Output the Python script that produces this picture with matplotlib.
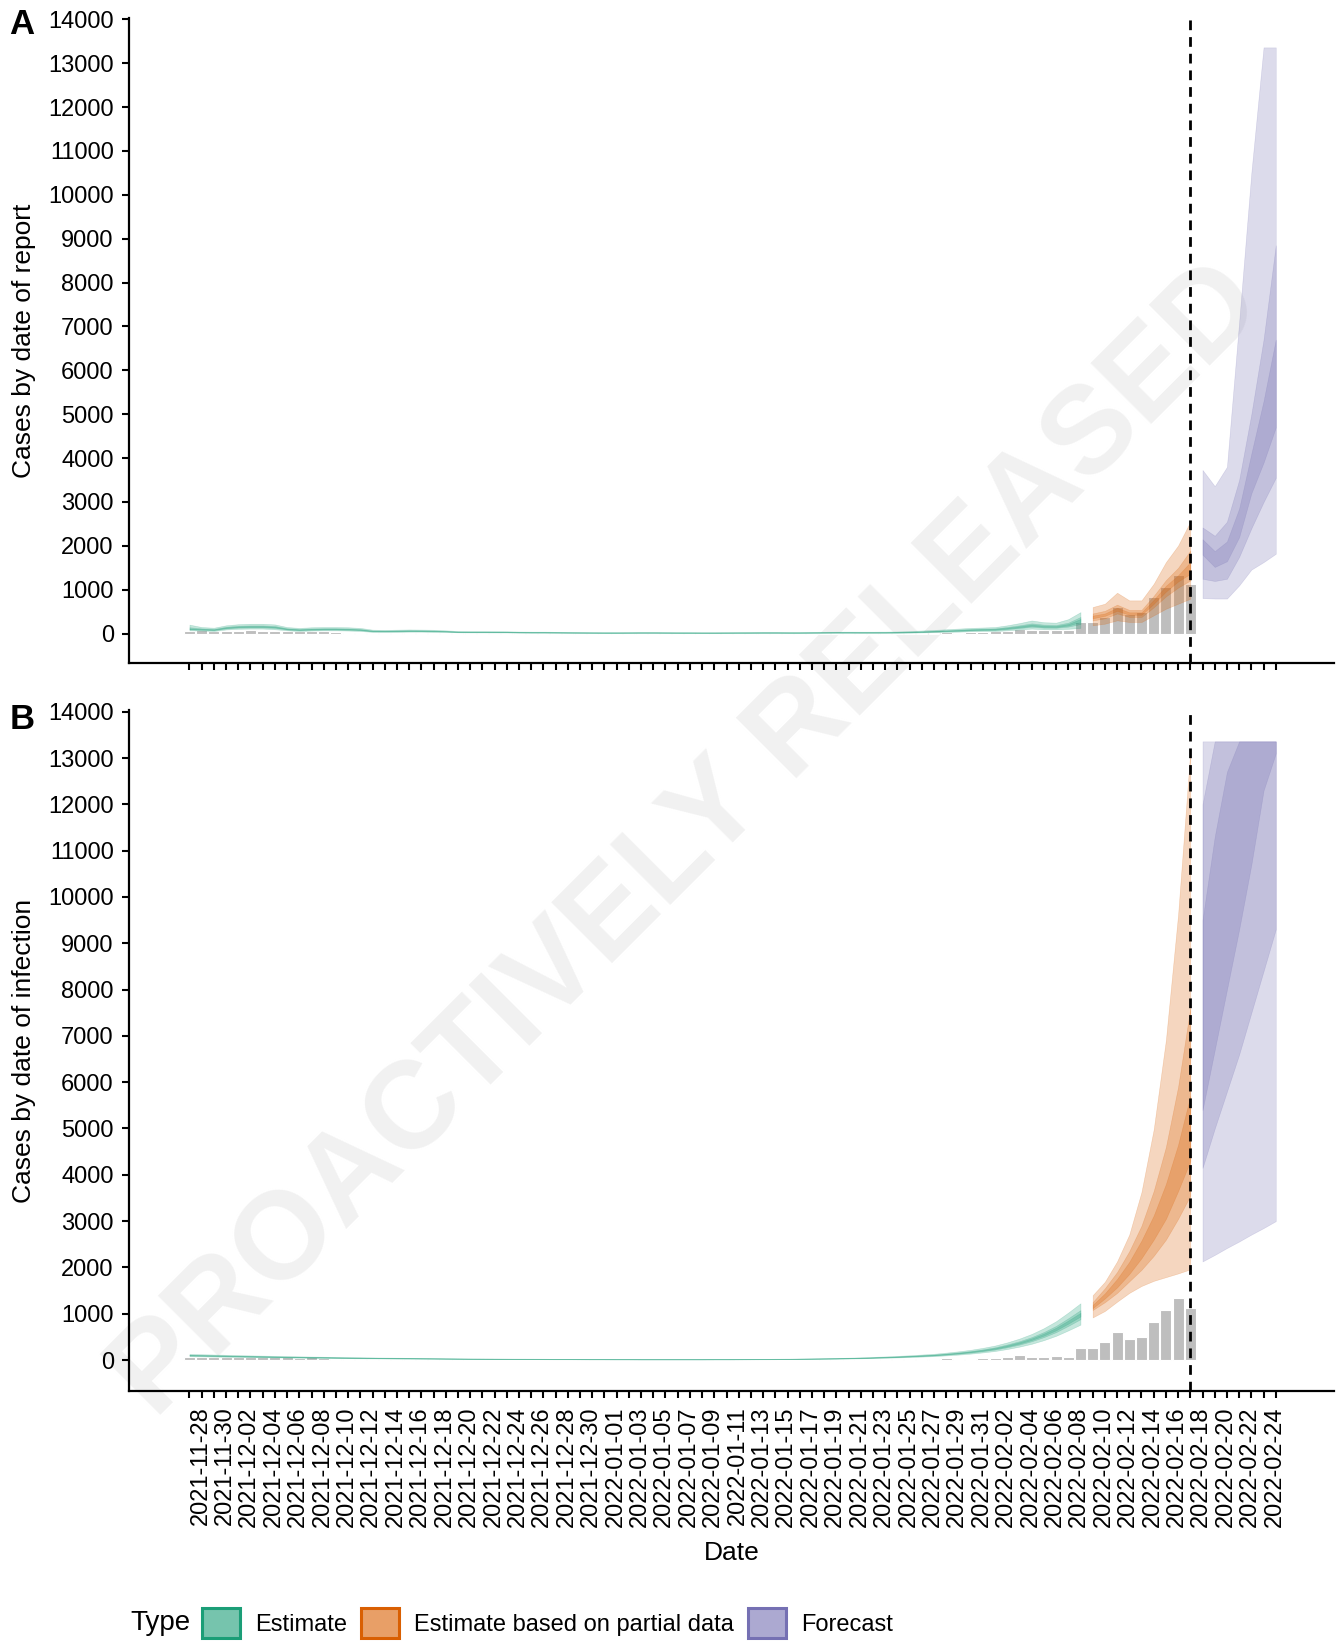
import numpy as np
import pandas as pd
import matplotlib
matplotlib.use("Agg")
import matplotlib.pyplot as plt
import matplotlib.dates as mdates
from matplotlib.patches import Patch

dates = pd.date_range("2021-11-28", "2022-02-25")
n_est = 74        # estimates up to 2022-02-09
n_partial = 9     # partial data 2022-02-10 .. 2022-02-18, forecast after that
types = ["Estimate", "Estimate based on partial data", "Forecast"]
colours = ["#1b9e77", "#d95f02", "#7570b3"]

# reported cases 2021-11-28 .. 2022-02-18
reported = [60, 75, 62,
            70, 68, 72, 58, 55, 60, 52, 64, 50, 30, 22, 18, 25, 20, 16, 22, 15, 12, 10, 14, 9, 11, 8, 6, 4, 5, 7, 6, 5, 8, 4,
            3, 5, 6, 4, 7, 5, 4, 6, 3, 5, 8, 6, 9, 7, 5, 8, 10, 7, 12, 9, 14, 11, 10, 15, 13, 18, 16, 12, 48, 20, 30,
            36, 50, 65, 100, 72, 72, 86, 72, 270, 270, 384, 598, 458, 500, 830, 1070, 1336, 1133]

# cases by date of report: 90%, 50%, 20% credible intervals
report_lo90 = [75, 70, 60,
               95, 110, 115, 115, 100, 75, 60, 70, 75, 75, 70, 60, 40, 38, 40, 45, 45, 40, 38, 30, 28, 28, 27, 26, 22, 20, 20, 18, 17, 16, 15,
               14, 14, 15, 16, 16, 15, 14, 14, 13, 13, 14, 15, 15, 16, 16, 15, 15, 16, 17, 18, 18, 17, 17, 17, 18, 22, 28, 35, 40, 45, 55,
               60, 60, 75, 95, 115, 100, 100, 110, 130,
               189, 227, 303, 265, 265, 417, 568, 682, 795,
               810, 800, 800, 1100, 1460, 1630, 1820]
report_lo50 = [95, 86, 76,
               117, 135, 140, 140, 128, 92, 77, 87, 92, 92, 87, 77, 51, 49, 52, 56, 55, 51, 46, 37, 35, 35, 34, 33, 28, 26, 26, 24, 22, 21, 20,
               19, 19, 20, 21, 21, 20, 19, 19, 18, 18, 19, 20, 20, 21, 21, 20, 20, 21, 22, 24, 24, 23, 23, 23, 25, 30, 37, 45, 53, 61, 72,
               78, 80, 101, 127, 156, 136, 134, 160, 220,
               300, 350, 460, 380, 380, 600, 850, 1050, 1212,
               1250, 1200, 1250, 1750, 2400, 3000, 3550]
report_lo20 = [105, 95, 85,
               129, 148, 154, 154, 143, 100, 85, 95, 100, 100, 95, 85, 57, 55, 58, 62, 61, 57, 50, 40, 38, 38, 37, 36, 31, 29, 29, 27, 25, 24, 23,
               22, 22, 23, 24, 24, 23, 22, 22, 21, 21, 22, 23, 23, 24, 24, 23, 23, 24, 26, 27, 27, 26, 26, 27, 29, 35, 42, 51, 60, 69, 81,
               88, 92, 115, 143, 175, 154, 150, 185, 265,
               350, 405, 520, 430, 430, 680, 960, 1190, 1364,
               1800, 1520, 1650, 2200, 3200, 3900, 4700]
report_hi20 = [118, 106, 96,
               143, 164, 170, 170, 158, 112, 96, 106, 111, 111, 106, 96, 64, 62, 66, 69, 68, 64, 55, 45, 43, 43, 42, 41, 35, 32, 32, 30, 28, 27, 26,
               25, 25, 26, 27, 27, 26, 25, 25, 24, 24, 25, 26, 26, 27, 27, 26, 26, 28, 29, 31, 31, 30, 30, 31, 35, 41, 48, 59, 70, 81, 95,
               102, 108, 135, 168, 207, 180, 175, 220, 335,
               410, 460, 590, 485, 485, 770, 1090, 1330, 1629,
               2150, 1880, 2100, 2850, 4100, 5300, 6700]
report_hi50 = [145, 120, 108,
               157, 180, 186, 186, 174, 123, 106, 118, 123, 123, 118, 106, 72, 69, 73, 77, 75, 71, 61, 49, 47, 47, 46, 45, 38, 36, 36, 34, 31, 30, 29,
               28, 28, 29, 30, 30, 29, 28, 28, 27, 27, 28, 29, 30, 31, 31, 30, 30, 32, 33, 35, 35, 34, 34, 35, 39, 46, 55, 66, 79, 91, 106,
               113, 120, 151, 189, 234, 205, 196, 250, 380,
               460, 520, 660, 540, 540, 860, 1220, 1500, 1894,
               2420, 2230, 2550, 3500, 5000, 6700, 8850]
report_hi90 = [205, 150, 135,
               190, 215, 225, 225, 210, 150, 130, 145, 150, 150, 145, 130, 90, 85, 90, 95, 92, 88, 75, 60, 58, 58, 56, 54, 48, 45, 45, 42, 40, 38, 36,
               35, 35, 36, 38, 38, 36, 35, 34, 33, 33, 35, 37, 38, 39, 39, 38, 38, 40, 42, 44, 45, 44, 44, 46, 50, 60, 72, 85, 100, 115, 130,
               140, 150, 190, 240, 300, 260, 250, 330, 490,
               606, 682, 932, 758, 758, 1136, 1629, 2008, 2553,
               3730, 3360, 3800, 7100, 10500, 13360, 13360]

# cases by date of infection
infect_lo90 = [82, 78, 74,
               70, 66, 62, 59, 56, 53, 50, 47, 44, 42, 40, 37, 35, 33, 31, 30, 28, 27, 25, 23, 22, 21, 20, 20, 19, 18, 17, 16, 16, 15, 14,
               14, 13, 13, 12, 12, 12, 12, 12, 12, 13, 13, 14, 15, 16, 17, 19, 21, 23, 26, 28, 32, 37, 42, 48, 56, 64, 74, 84, 100, 117, 138,
               164, 195, 238, 289, 351, 429, 523, 640, 764,
               920, 1060, 1260, 1450, 1600, 1710, 1790, 1870, 1960,
               2130, 2270, 2420, 2560, 2710, 2850, 3000]
infect_lo50 = [95, 90, 86,
               81, 77, 72, 68, 65, 61, 58, 54, 51, 49, 46, 43, 41, 38, 36, 34, 32, 31, 29, 27, 25, 24, 23, 23, 22, 21, 20, 19, 18, 17, 16,
               16, 15, 15, 14, 14, 14, 14, 14, 14, 15, 15, 16, 17, 18, 20, 22, 24, 27, 30, 32, 37, 42, 49, 56, 65, 74, 86, 97, 115, 135, 159,
               189, 225, 275, 333, 405, 495, 603, 738, 882,
               1080, 1250, 1450, 1700, 1950, 2250, 2600, 3050, 3550,
               4150, 5000, 5800, 6600, 7500, 8400, 9300]
infect_lo20 = [101, 96, 91,
               86, 82, 77, 73, 69, 65, 61, 58, 55, 52, 49, 46, 43, 40, 38, 36, 35, 33, 31, 29, 27, 26, 25, 24, 23, 22, 21, 20, 19, 18, 17,
               17, 16, 16, 15, 15, 15, 15, 15, 15, 16, 16, 17, 18, 19, 21, 23, 26, 29, 32, 35, 39, 45, 52, 60, 69, 79, 91, 104, 123, 144, 170,
               202, 240, 293, 355, 432, 528, 643, 787, 941,
               1120, 1330, 1570, 1860, 2200, 2600, 3050, 3650, 4300,
               5400, 6700, 8000, 9300, 10700, 12300, 13100]
infect_hi20 = [109, 104, 99,
               94, 88, 83, 79, 75, 71, 67, 62, 59, 56, 53, 50, 47, 44, 42, 40, 37, 35, 33, 31, 29, 28, 27, 26, 25, 24, 23, 22, 21, 20, 19,
               19, 18, 18, 17, 17, 17, 17, 17, 17, 18, 18, 19, 20, 21, 23, 25, 28, 31, 34, 37, 43, 49, 56, 64, 75, 85, 99, 112, 133, 156, 184,
               218, 260, 317, 385, 468, 572, 697, 853, 1019,
               1190, 1440, 1750, 2120, 2580, 3120, 3800, 4650, 5700,
               9500, 11300, 12700, 13360, 13360, 13360, 13360]
infect_hi50 = [116, 110, 105,
               99, 94, 88, 84, 79, 75, 70, 66, 63, 59, 56, 53, 50, 46, 44, 42, 40, 37, 35, 33, 31, 30, 29, 28, 26, 25, 24, 23, 22, 21, 20,
               20, 19, 19, 18, 18, 18, 18, 18, 18, 19, 19, 20, 21, 22, 24, 26, 30, 33, 36, 40, 45, 52, 59, 68, 79, 90, 105, 119, 141, 165, 195,
               231, 275, 336, 407, 495, 605, 737, 902, 1078,
               1250, 1550, 1900, 2350, 2900, 3650, 4600, 5900, 7600,
               12000, 13360, 13360, 13360, 13360, 13360, 13360]
infect_hi90 = [131, 125, 119,
               113, 106, 100, 95, 90, 85, 80, 75, 71, 68, 64, 60, 56, 53, 50, 48, 45, 43, 40, 38, 35, 34, 33, 31, 30, 29, 28, 26, 25, 24, 23,
               23, 21, 21, 20, 20, 20, 20, 20, 20, 21, 21, 23, 24, 25, 28, 30, 34, 38, 41, 45, 51, 59, 68, 78, 90, 103, 119, 135, 160, 188, 221,
               263, 313, 381, 463, 563, 688, 838, 1025, 1225,
               1400, 1690, 2130, 2710, 3630, 4980, 6910, 9620, 13150,
               13360, 13360, 13360, 13360, 13360, 13360, 13360]

x = mdates.date2num(dates)
segments = [(0, n_est), (n_est, n_est + n_partial), (n_est + n_partial, len(dates))]
tick_font = "Liberation Sans"

fig = plt.figure(figsize=(13.4, 16.43), dpi=100)
ax_a = fig.add_axes([0.0963, 0.5965, 0.8992, 0.3925])
ax_b = fig.add_axes([0.0963, 0.1534, 0.8992, 0.4142])

fig.text(0.514, 0.488, "PROACTIVELY RELEASED", rotation=45, fontsize=89, fontweight="bold",
         family="Liberation Sans", color="#f1f1f1", ha="center", va="center",
         rotation_mode="anchor", zorder=-1)


def draw_panel(ax, lo90, lo50, lo20, hi20, hi50, hi90, ylabel, show_dates):
    ax.set_facecolor("none")
    ax.bar(x[:len(reported)], reported, width=0.9, color="#bebebe", edgecolor="white",
           linewidth=0.8, zorder=1)
    for (a, b), col in zip(segments, colours):
        for lo, hi in ((lo90, hi90), (lo50, hi50), (lo20, hi20)):
            ax.fill_between(x[a:b], lo[a:b], hi[a:b], facecolor=col, edgecolor=col,
                            alpha=0.25, linewidth=0.4, zorder=2)
    ax.axvline(x[n_est + n_partial - 1], color="black", linestyle=(0, (3.5, 2.5)),
               linewidth=2, zorder=3)

    ax.set_ylim(-668, 14028)
    ax.set_xlim(x[0] - 4.95, x[-1] + 4.77)
    ax.set_yticks(np.arange(0, 14001, 1000))
    ax.set_yticklabels([str(v) for v in range(0, 14001, 1000)], family=tick_font, fontsize=17)
    ax.set_xticks(x)
    if show_dates:
        labels = [d.strftime("%Y-%m-%d") if i % 2 == 0 else "" for i, d in enumerate(dates)]
        ax.set_xticklabels(labels, rotation=90, ha="left", family=tick_font, fontsize=17)
    else:
        ax.set_xticklabels([])
    ax.tick_params(length=5, width=1.5, color="black", pad=6)

    for side in ("top", "right"):
        ax.spines[side].set_visible(False)
    for side in ("left", "bottom"):
        ax.spines[side].set_linewidth(1.6)

    ax.set_ylabel(ylabel, family="Liberation Sans", fontsize=19)
    ax.yaxis.set_label_coords(-0.077, 0.5)


draw_panel(ax_a, report_lo90, report_lo50, report_lo20, report_hi20, report_hi50, report_hi90,
           "Cases by date of report", False)
draw_panel(ax_b, infect_lo90, infect_lo50, infect_lo20, infect_hi20, infect_hi50, infect_hi90,
           "Cases by date of infection", True)
ax_b.set_xlabel("Date", family="Liberation Sans", fontsize=19, labelpad=10)

fig.text(0.007, 0.995, "A", fontsize=25, fontweight="bold", family="Liberation Sans", ha="left", va="top")
fig.text(0.007, 1 - 703 / 1643, "B", fontsize=25, fontweight="bold", family="Liberation Sans", ha="left", va="top")

# legend along the bottom
handles = []
for c in colours:
    r, g, b = matplotlib.colors.to_rgb(c)
    handles.append(Patch(facecolor=(r, g, b, 0.6), edgecolor=c, linewidth=2.2))
fig.text(130 / 1340, 1 - 1623 / 1643, "Type", family="Liberation Sans", fontsize=20, ha="left", va="center")
fig.legend(handles, types, loc="center left", bbox_to_anchor=(202 / 1340, 1 - 1623 / 1643),
           ncol=3, frameon=False, borderpad=0, borderaxespad=0,
           handlelength=1.6, handleheight=1.6, handletextpad=0.65, columnspacing=0.6,
           prop={"family": "Liberation Sans", "size": 17})

fig.savefig("out.png", dpi=100)
